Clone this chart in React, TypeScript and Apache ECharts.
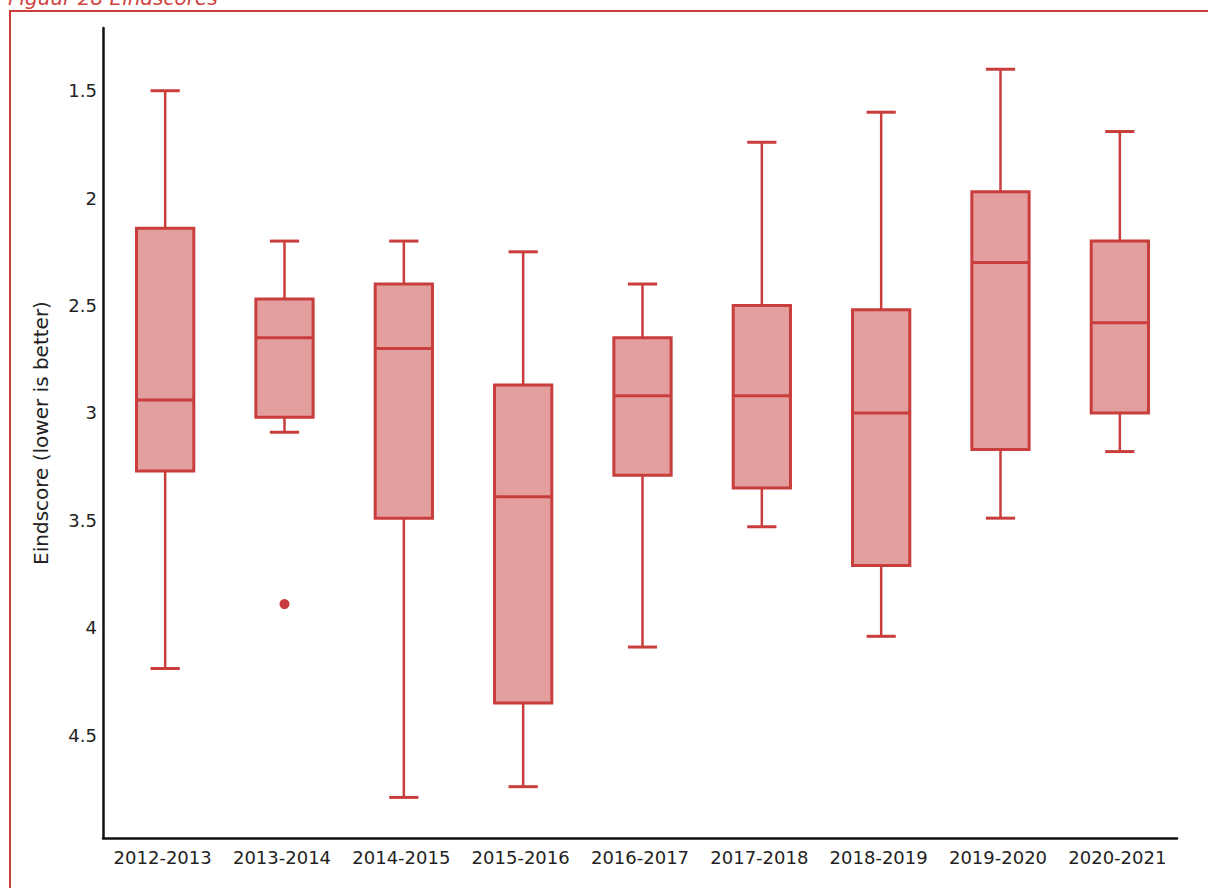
import React, { useEffect, useRef } from "react";
import * as echarts from "echarts";

const categories = [
  "2012-2013", "2013-2014", "2014-2015", "2015-2016", "2016-2017",
  "2017-2018", "2018-2019", "2019-2020", "2020-2021",
];
const whiskerLow = [1.5, 2.2, 2.2, 2.25, 2.4, 1.74, 1.6, 1.4, 1.69];
const q1 = [2.14, 2.47, 2.4, 2.87, 2.65, 2.5, 2.52, 1.97, 2.2];
const medians = [2.94, 2.65, 2.7, 3.39, 2.92, 2.92, 3.0, 2.3, 2.58];
const q3 = [3.27, 3.02, 3.49, 4.35, 3.29, 3.35, 3.71, 3.17, 3.0];
const whiskerHigh = [4.19, 3.09, 4.79, 4.74, 4.09, 3.53, 4.04, 3.49, 3.18];
const outlierCategories = ["2013-2014"];
const outlierValues = [3.89];

const yMin = 1.208;
const yMax = 4.979;

const RED = "#c93e3d";
const FILL = "#e39e9e";
const FONT = "DejaVu Sans";
const SHIFT = 2.5;

export default function App() {
  const ref = useRef<HTMLDivElement>(null);
  useEffect(() => {
    document.body.style.margin = "0";
    document.body.style.overflow = "hidden";
    const chart = echarts.init(ref.current!, null, { renderer: "svg" });
    const boxData = categories.map((_, i) => [i, whiskerLow[i], q1[i], medians[i], q3[i], whiskerHigh[i]]);
    const outData = outlierCategories.map((c, i) => [categories.indexOf(c), outlierValues[i]]);
    chart.setOption({
      animation: false,
      backgroundColor: "#ffffff",
      graphic: [
        {
          type: "rect",
          shape: { x: 10, y: 11, width: 1400, height: 1200 },
          style: { fill: "none", stroke: "#cc3d3c", lineWidth: 2 },
          silent: true,
        },
        {
          type: "text",
          x: 8,
          y: -2,
          style: {
            text: "Figuur 28 Eindscores",
            fill: "#d0433f",
            font: `italic 20px '${FONT}'`,
            verticalAlign: "middle",
            align: "left",
          },
          silent: true,
        },
      ],
      grid: { left: 103, right: 31, top: 28, bottom: 50 },
      xAxis: {
        type: "category",
        data: categories,
        boundaryGap: true,
        axisLine: { show: true, lineStyle: { color: "#111", width: 2.5 } },
        axisTick: { show: false },
        axisLabel: { color: "#222", fontSize: 18, fontFamily: FONT, margin: 10, interval: 0 },
        splitLine: { show: false },
      },
      yAxis: {
        type: "value",
        inverse: true,
        min: yMin,
        max: yMax,
        splitNumber: 7,
        name: "Eindscore (lower is better)",
        nameLocation: "middle",
        nameGap: 52,
        nameTextStyle: { color: "#222", fontSize: 20, fontFamily: FONT },
        axisLine: { show: true, lineStyle: { color: "#111", width: 2.5 } },
        axisTick: { show: false },
        splitLine: { show: false },
        axisLabel: {
          color: "#222",
          fontSize: 18,
          fontFamily: FONT,
          margin: 6,
          showMinLabel: true,
          showMaxLabel: true,
          formatter: (v: number) =>
            Math.abs(v * 2 - Math.round(v * 2)) < 1e-6 ? String(Math.round(v * 2) / 2) : "",
        },
      },
      series: [
        {
          type: "custom",
          data: boxData,
          encode: { x: 0, y: [1, 2, 3, 4, 5] },
          renderItem: (params: any, api: any) => {
            const idx = api.value(0);
            const band = api.size([1, 0])[0];
            const boxW = band * 0.48;
            const capW = band * 0.245;
            const pLow = api.coord([idx, api.value(1)]);
            const pQ1 = api.coord([idx, api.value(2)]);
            const pMed = api.coord([idx, api.value(3)]);
            const pQ3 = api.coord([idx, api.value(4)]);
            const pHigh = api.coord([idx, api.value(5)]);
            const cx = pMed[0] + SHIFT;
            const line = (x1: number, y1: number, x2: number, y2: number, w: number) => ({
              type: "line",
              shape: { x1, y1, x2, y2 },
              style: { stroke: RED, lineWidth: w },
            });
            return {
              type: "group",
              children: [
                line(cx, pLow[1], cx, pQ1[1], 2.5),
                line(cx, pQ3[1], cx, pHigh[1], 2.5),
                line(cx - capW / 2, pLow[1], cx + capW / 2, pLow[1], 3),
                line(cx - capW / 2, pHigh[1], cx + capW / 2, pHigh[1], 3),
                {
                  type: "rect",
                  shape: { x: cx - boxW / 2, y: pQ1[1], width: boxW, height: pQ3[1] - pQ1[1] },
                  style: { fill: FILL, stroke: RED, lineWidth: 3 },
                },
                line(cx - boxW / 2, pMed[1], cx + boxW / 2, pMed[1], 3),
              ],
            };
          },
          z: 2,
        },
        {
          type: "scatter",
          data: outData,
          symbol: "circle",
          symbolSize: 10,
          symbolOffset: [SHIFT, 0],
          itemStyle: { color: RED, opacity: 1 },
          z: 3,
        },
      ],
    });
    return () => chart.dispose();
  }, []);
  return <div ref={ref} style={{ width: 1208, height: 888 }} />;
}
